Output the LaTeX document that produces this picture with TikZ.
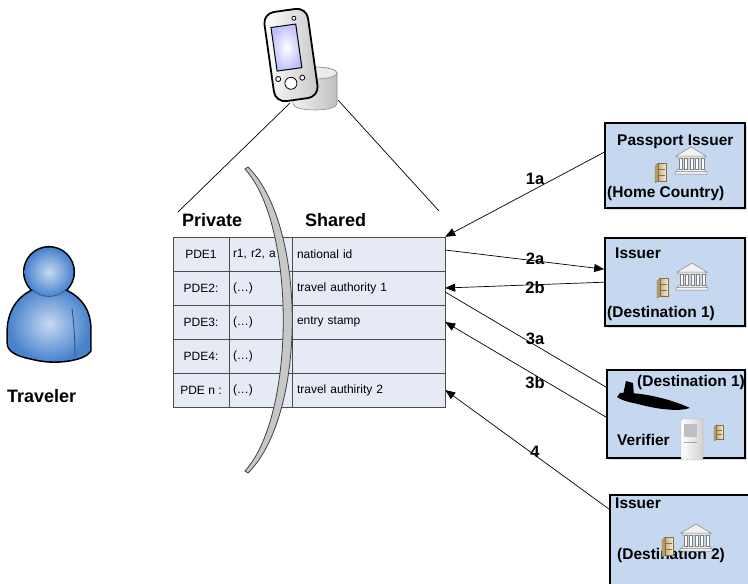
\documentclass[tikz,border=0pt]{standalone}
\usepackage{fontspec}
\setmainfont{Liberation Sans}
\usetikzlibrary{positioning, arrows.meta, shadows, calc}

\definecolor{partyfill}{RGB}{197,216,240}
\definecolor{rowfill}{RGB}{229,234,244}
\definecolor{userblue}{RGB}{70,130,205}
\definecolor{userlight}{RGB}{200,217,240}
\definecolor{tanlo}{RGB}{186,156,100}
\definecolor{tanhi}{RGB}{246,234,204}

\tikzset{
  cell/.style    = {draw=black!70, fill=rowfill, rectangle, inner sep=0pt,
                    minimum height=34pt, font=\fontsize{12}{13}\selectfont},
  pdecell/.style = {cell, minimum width=56pt},
  prvcell/.style = {cell, minimum width=63pt, text width=55pt, align=left},
  shrcell/.style = {cell, minimum width=153pt, text width=143pt, align=left},
  colhead/.style = {inner sep=0pt, font=\bfseries\fontsize{18}{20}\selectfont},
  party/.style   = {rectangle, draw=black, line width=1.6pt, fill=partyfill,
                    inner sep=0pt,
                    drop shadow={shadow xshift=2pt, shadow yshift=-2pt,
                                 fill=black!25}},
  ptext/.style   = {inner sep=0pt, font=\bfseries\fontsize{15.5}{17}\selectfont},
  msg/.style     = {inner sep=0pt, font=\bfseries\fontsize{16.5}{18}\selectfont},
  arr/.style     = {-{Triangle[length=10pt, width=8pt]}, line width=0.7pt},
  link/.style    = {line width=0.7pt},
  bank/.pic      = {
    \filldraw[draw=black!50, fill=black!5, line width=0.5pt]
      (1,9) -- (16,0) -- (31,9) -- cycle
      (2,9) rectangle (30,11)
      (2,22) rectangle (30,24.5)
      (0,24.5) rectangle (32,27);
    \foreach \cx in {4,9.5,15,20.5,26}
      \filldraw[draw=black!50, fill=white, line width=0.5pt]
        (\cx,11) rectangle ++(3,11);
  },
  cabinet/.pic   = {
    \filldraw[draw=tanlo!70!black, fill=tanlo, line width=0.3pt]
      (0,3) -- (3,0) -- (3,18) -- (0,20) -- cycle;
    \shadedraw[left color=tanlo!80, right color=tanhi, draw=tanlo!70!black,
               line width=0.3pt] (3,0) rectangle (11,18);
    \draw[tanlo!70!black, line width=0.3pt] (4,6) -- (10,6) (4,12) -- (10,12);
  },
}

\begin{document}
\begin{tikzpicture}[x=1pt, y=-1pt]
\clip (0,0) rectangle (748,584);

% ---------------------------------------------------------------
%  Traveler: thick outlines first, gradient laid over their inner half
% ---------------------------------------------------------------
\draw[line width=3.2pt, line join=round]
  (30,292) .. controls (15,300) and (8,315) .. (8,332) -- (8,343)
  .. controls (8,352) and (20,356) .. (30,358)
  .. controls (45,362) and (58,362) .. (70,360)
  .. controls (80,358) and (86,356) .. (90,351) -- (90,328)
  .. controls (90,312) and (82,299) .. (68,292)
  .. controls (60,286) and (38,286) .. (30,292) -- cycle;
\draw[line width=3.2pt] (49,272) circle[radius=24.5];
\shade[inner color=userlight, outer color=userblue]
  (30,292) .. controls (15,300) and (8,315) .. (8,332) -- (8,343)
  .. controls (8,352) and (20,356) .. (30,358)
  .. controls (45,362) and (58,362) .. (70,360)
  .. controls (80,358) and (86,356) .. (90,351) -- (90,328)
  .. controls (90,312) and (82,299) .. (68,292)
  .. controls (60,286) and (38,286) .. (30,292) -- cycle;
\shade[inner color=userlight, outer color=userblue]
  (49,272) circle[radius=24.5];
\draw[userblue!60!black, line width=0.6pt]
  (49,272) ++(45:24.5) arc[start angle=45, end angle=135, radius=24.5];
\draw[userblue!60!black, line width=0.8pt]
  (72,308) .. controls (74,325) and (75,340) .. (75,357);

\node[colhead, anchor=base west] (traveler) at (7,402) {Traveler};

% ---------------------------------------------------------------
%  Handheld device with its data store
% ---------------------------------------------------------------
\shadedraw[left color=black!5, right color=black!25, draw=black!45,
           line width=0.6pt]
  (293,73) -- (293,104) arc[start angle=180, end angle=0,
                            x radius=22, y radius=6]
  -- (337,73) arc[start angle=0, end angle=-180, x radius=22, y radius=6]
  -- cycle;
\filldraw[fill=black!8, draw=black!45, line width=0.6pt]
  (315,73) ellipse[x radius=22, y radius=6];

\begin{scope}[shift={(291,55)}, rotate=8]
  \shadedraw[left color=white, right color=black!22, draw=black,
             line width=1.8pt, rounded corners=11pt]
    (-22,-45) rectangle (22,45);
  \shadedraw[inner color=white, outer color=blue!25, draw=black,
             line width=1pt] (-16,-30) rectangle (9,14);
  \draw[line width=0.8pt, fill=white] (8,-36) circle[radius=2]
    (-16,22) circle[radius=2.5] (8,24) circle[radius=2.5]
    (-4,28) circle[radius=6];
\end{scope}

\coordinate (pda-l) at (290,103);
\coordinate (pda-r) at (338,100);
\coordinate (fan-l) at (178,212);
\coordinate (fan-r) at (439,211);
\draw[link] (pda-l) -- (fan-l);
\draw[link] (pda-r) -- (fan-r);

% ---------------------------------------------------------------
%  Personal data table (private | shared)
% ---------------------------------------------------------------
\node[colhead, anchor=base west] (private) at (182,226) {Private};
\node[colhead, anchor=base west] (shared)  at (305,226) {Shared};

\node[pdecell] (pde1) at (201,254) {PDE1};
\node[prvcell] (prv1) at (260.5,254) {r1, r2, a};
\node[shrcell] (shr1) at (368.5,254) {national id};

\node[pdecell] (pde2) at (201,288) {PDE2:};
\node[prvcell] (prv2) at (260.5,288) {(…)};
\node[shrcell] (shr2) at (368.5,288) {travel authority 1};

\node[pdecell] (pde3) at (201,322) {PDE3:};
\node[prvcell] (prv3) at (260.5,322) {(…)};
\node[shrcell] (shr3) at (368.5,322) {entry stamp};

\node[pdecell] (pde4) at (201,356) {PDE4:};
\node[prvcell] (prv4) at (260.5,356) {(…)};
\node[shrcell] (shr4) at (368.5,356) {};

\node[pdecell] (pde5) at (201,390) {PDE n :};
\node[prvcell] (prv5) at (260.5,390) {(…)};
\node[shrcell] (shr5) at (368.5,390) {travel authirity 2};

% dividing shield between private and shared part
\filldraw[fill=black!22, draw=black!75, line width=0.8pt]
  (248,167) .. controls (307,225) and (307,415) .. (248,473)
  -- (245,471) .. controls (296,415) and (296,225) .. (245,169) -- cycle;

% ---------------------------------------------------------------
%  Issuers and verifier (right)
% ---------------------------------------------------------------
\node[party, minimum width=140pt, minimum height=85pt] (home)  at (675,165.5) {};
\node[party, minimum width=140pt, minimum height=88pt] (dest1) at (675,282) {};
\node[party, minimum width=138pt, minimum height=88pt] (verif) at (676,414) {};
\node[party, minimum width=160pt, minimum height=95pt] (dest2) at (690,542.5) {};

\node[ptext, anchor=base west] (home-t)  at (617,145) {Passport Issuer};
\node[ptext, anchor=base west] (home-b)  at (607,197) {(Home Country)};
\node[ptext, anchor=base west] (dest1-t) at (615,258) {Issuer};
\node[ptext, anchor=base west] (dest1-b) at (607,317) {(Destination 1)};
\node[ptext, anchor=base west] (verif-t) at (637,386) {(Destination 1)};
\node[ptext, anchor=base west] (verif-b) at (617,445) {Verifier};
\node[ptext, anchor=base west] (dest2-t) at (615,508) {Issuer};
\node[ptext, anchor=base west] (dest2-b) at (617,559) {(Destination 2)};

\pic at (655,163) {cabinet};
\pic at (675,147) {bank};
\pic at (657,278) {cabinet};
\pic at (676,263) {bank};
\pic at (680,524) {bank};
\pic at (662,537) {cabinet};

% verifier: plane, kiosk and record box
\fill[black]
  (620,393) .. controls (640,392) and (668,398) .. (690,408)
  .. controls (678,412) and (656,409) .. (638,404)
  .. controls (628,402) and (621,400) .. (617,397) -- cycle;
\fill[black] (623,395) -- (626,381) -- (633,383) -- (634,396) -- cycle;
\shadedraw[left color=white, right color=black!18, draw=black!30,
           line width=0.4pt, rounded corners=2pt] (681,419) rectangle (703,460);
\fill[black!25] (684,424) rectangle (697,437);
\draw[black!35, line width=0.4pt] (684,442) -- (697,442);
\pic[scale=0.8] at (714,425) {cabinet};

% ---------------------------------------------------------------
%  Message flows
% ---------------------------------------------------------------
\draw[arr]  ([yshift=-30pt]home.north west)  -- (shr1.north east);
\draw[arr]  ([yshift=4pt]shr1.east)          -- ([yshift=-32pt]dest1.north west);
\draw[arr]  ([yshift=-45pt]dest1.north west) -- (shr2.east);
\draw[link] ([yshift=-4pt]shr2.east)         -- ([yshift=-18pt]verif.north west);
\draw[arr]  ([yshift=-48pt]verif.north west) -- (shr3.east);
\draw[arr]  ([yshift=-15pt]dest2.north west) -- (shr5.east);

\node[msg] (m1a) at (535,179) {1a};
\node[msg] (m2a) at (535,259) {2a};
\node[msg] (m2b) at (535,288) {2b};
\node[msg] (m3a) at (535,339) {3a};
\node[msg] (m3b) at (535,383) {3b};
\node[msg] (m4)  at (535,452) {4};

\end{tikzpicture}
\end{document}
